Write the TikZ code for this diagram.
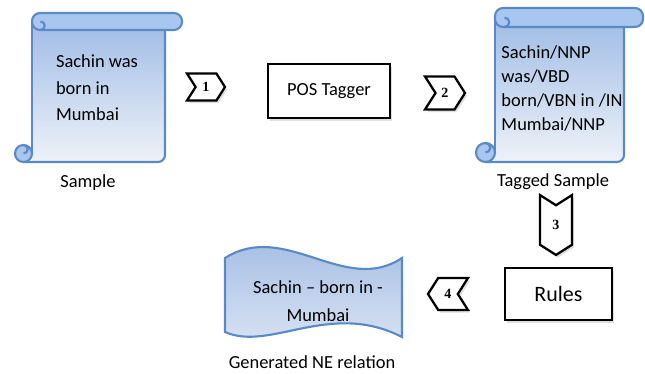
\documentclass[tikz,border=0pt]{standalone}
\usepackage{fontspec}
\setmainfont{Carlito}
\newfontfamily\numfont{Liberation Serif}
\usetikzlibrary{shapes.symbols,shadows}
\definecolor{scrollline}{HTML}{5A8AC6}
\definecolor{scrolltop}{HTML}{A0BCE6}
\definecolor{scrollbot}{HTML}{EEF2F8}
\definecolor{barfill}{HTML}{A9C6F0}
\definecolor{wavetop}{HTML}{9CB8E3}
\definecolor{wavebot}{HTML}{DCE5F3}

\begin{document}
\begin{tikzpicture}[x=0.02cm,y=0.02cm,
      txt/.style={font=\fontsize{10.5}{15}\selectfont,inner sep=0pt},
      shad/.style={drop shadow={shadow xshift=1.2pt,shadow yshift=-1.5pt,opacity=.25}},
      chev/.style={signal,draw=black,line width=1.3pt,fill=white,shad,inner sep=0pt,
        signal pointer angle=115,font=\numfont\bfseries\fontsize{8}{9}\selectfont},
      procbox/.style={draw=black,line width=1.4pt,fill=white,shad,inner sep=0pt},
      scrollpart/.style={draw=scrollline,line width=1.2pt}]
    \useasboundingbox (0,0) rectangle (645,-374);
    % scrolls: left x / top y / right x / bottom y / roll size
    \foreach \xa/\ya/\xb/\yb/\c in {15/13/182/162/17,476/8/643/162/19}{
      \fill[top color=scrolltop,bottom color=scrollbot] ({\xa+\c},{-\ya-\c/2}) -- ({\xa+\c},-\yb)
        [rounded corners=4pt] -- ({\xb-\c},-\yb) -- ({\xb-\c},{-\ya-\c/2}) [sharp corners] -- cycle;
      \draw[scrollpart] ({\xa+\c},{-\ya-\c/2}) -- ({\xa+\c},{-\yb+\c/2});
      \draw[scrollpart,rounded corners=4pt] ({\xa+\c/2},-\yb) -- ({\xb-\c},-\yb) -- ({\xb-\c},{-\ya-\c});
      \draw[scrollpart,fill=barfill,rounded corners=4.6pt] ({\xa+\c},-\ya) rectangle (\xb,{-\ya-\c});
      \draw[scrollpart] ({\xa+1.5*\c},{-\ya-\c}) arc[start angle=-90,end angle=90,radius=\c/4];
      \draw[scrollpart,fill=barfill] ({\xa+\c/2},{-\yb+\c/2}) circle[radius=\c/2];
      \draw[scrollpart] ({\xa+\c/2},{-\yb+\c/2}) arc[start angle=-90,end angle=90,radius=\c/4];
    }
    % generated relation
    \draw[scrollpart,top color=wavetop,bottom color=wavebot]
      (225,-258) .. controls (285,-220) and (345,-296) .. (402,-258) -- (402,-337)
      .. controls (330,-300) and (270,-352) .. (225,-332) -- cycle;

    \node[txt,align=left] (sampletxt) at (97,-88) {Sachin was\\born in\\Mumbai};
    \node[txt] (samplelbl) at (88,-183) {Sample};
    \node[txt,align=left,font=\fontsize{10.5}{13.8}\selectfont] (taggedtxt) at (562,-88.5)
      {Sachin/NNP\\was/VBD\\born/VBN in /IN\\Mumbai/NNP};
    \node[txt] (taggedlbl) at (553,-182) {Tagged Sample};
    \node[txt,align=center,font=\fontsize{10.5}{16}\selectfont] (reltxt) at (318,-301)
      {Sachin -- born in -\\Mumbai};
    \node[txt] (rellbl) at (312,-362) {Generated NE relation};

    \node[procbox,minimum width=2.44cm,minimum height=1.08cm,font=\fontsize{10.5}{13}\selectfont]
      (tagger) at (329,-91) {POS Tagger};
    \node[procbox,minimum width=2.14cm,minimum height=1.04cm,font=\fontsize{12.5}{15}\selectfont]
      (rules) at (558.5,-294) {Rules};

    \node[chev,signal to=east,signal from=west,minimum width=0.76cm,minimum height=0.54cm]
      (step1) at (206,-87) {1};
    \node[chev,signal to=east,signal from=west,minimum width=0.8cm,minimum height=0.66cm]
      (step2) at (445,-93) {2};
    \node[chev,signal to=south,signal from=north,minimum width=0.64cm,minimum height=0.88cm]
      (step3) at (556,-225) {3};
    \node[chev,signal to=west,signal from=east,minimum width=0.8cm,minimum height=0.64cm]
      (step4) at (448,-294) {4};
  \end{tikzpicture}
\end{document}
